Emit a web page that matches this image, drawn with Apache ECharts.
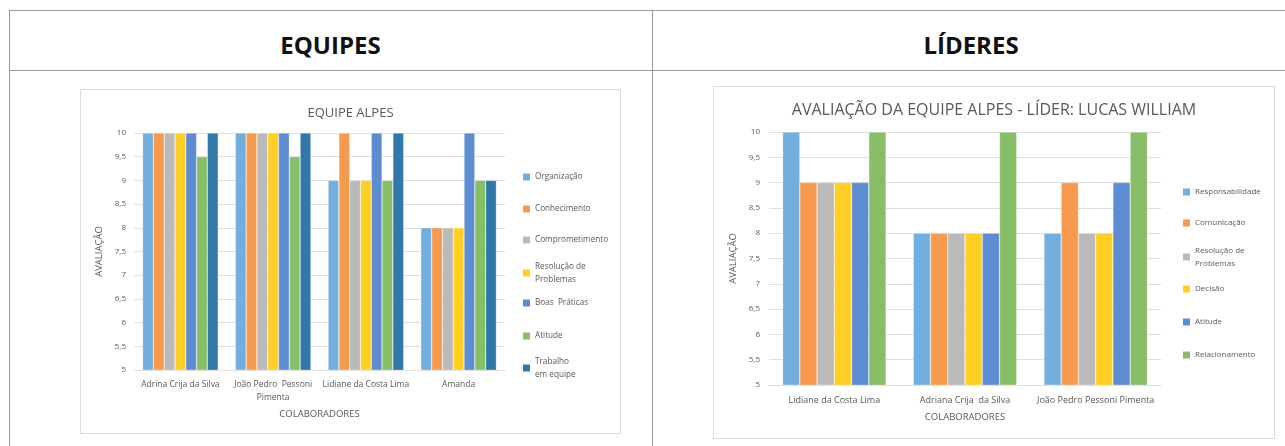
<!DOCTYPE html>
<html lang="pt-BR">
<head>
<meta charset="utf-8">
<title>Equipes e Líderes</title>
<script src="https://cdn.jsdelivr.net/npm/echarts@6/dist/echarts.min.js"></script>
<style>
  html, body { margin: 0; padding: 0; background: #ffffff; }
  body { position: relative; width: 1285px; height: 446px; overflow: hidden; font-family: "Open Sans", sans-serif; }
  .hline { position: absolute; height: 0; border-top: 1px solid #9a9a9a; }
  .vline { position: absolute; width: 0; border-left: 1px solid #9a9a9a; }
  .head { position: absolute; top: 29px; font-weight: 700; font-size: 24px; color: #111; text-align: center; line-height: 32px; }
  .box { position: absolute; border: 1px solid #dcdcdc; box-sizing: border-box; background: #fff; }
</style>
</head>
<body>
<div class="hline" style="left:9px; top:10px; width:1290px;"></div>
<div class="hline" style="left:9px; top:70px; width:1290px;"></div>
<div class="vline" style="left:9px; top:10px; height:440px;"></div>
<div class="vline" style="left:652px; top:10px; height:440px;"></div>
<div class="head" style="left:9px; width:643px;">EQUIPES</div>
<div class="head" style="left:652px; width:638px;">LÍDERES</div>
<div class="box" id="equipes" style="left:80px; top:89px; width:541px; height:345px;"></div>
<div class="box" id="lideres" style="left:713px; top:86px; width:562px; height:353px;"></div>
<script>
// ---- Equipe Alpes ----
const equipeCategories = ['Adrina Crija da Silva', 'João Pedro  Pessoni\nPimenta', 'Lidiane da Costa Lima', 'Amanda'];
const equipeNames = ['Organização', 'Conhecimento', 'Comprometimento', 'Resolução de\nProblemas', 'Boas  Práticas', 'Atitude', 'Trabalho\nem equipe'];
const organizacao = [10, 10, 9, 8];
const conhecimento = [10, 10, 10, 8];
const comprometimento = [10, 10, 9, 8];
const resolucaoEquipe = [10, 10, 9, 8];
const boasPraticas = [10, 10, 10, 10];
const atitudeEquipe = [9.5, 9.5, 9, 9];
const trabalhoEquipe = [10, 10, 10, 9];

// ---- Líderes ----
const lideresCategories = ['Lidiane da Costa Lima', 'Adriana Crija  da Silva', 'João Pedro Pessoni Pimenta'];
const lideresNames = ['Responsabilidade', 'Comunicação', 'Resolução de\nProblemas', 'Decisão', 'Atitude', 'Relacionamento'];
const responsabilidade = [10, 8, 8];
const comunicacao = [9, 8, 9];
const resolucaoLider = [9, 8, 8];
const decisao = [9, 8, 8];
const atitudeLider = [9, 8, 9];
const relacionamento = [10, 10, 10];

const yTicks = { min: 5, max: 10, interval: 0.5 };

const palette = ['#72AFDE', '#F79A4D', '#BABABA', '#FFCF26', '#5D8CD0', '#87BE67', '#2F78A8'];
const textGray = '#595959';
const gridGray = '#dedede';
const FONT = 'Open Sans';

function valueAxis(fontSize, margin, nameGap, nameSize) {
  return {
    type: 'value', min: yTicks.min, max: yTicks.max, interval: yTicks.interval,
    name: 'AVALIAÇÃO', nameLocation: 'middle', nameGap: nameGap,
    nameTextStyle: { color: textGray, fontSize: nameSize, fontFamily: FONT },
    axisLine: { show: false }, axisTick: { show: false },
    axisLabel: { color: textGray, fontSize: fontSize, fontFamily: FONT, margin: margin,
      formatter: v => String(v).replace('.', ',') },
    splitLine: { lineStyle: { color: gridGray, width: 1 } }
  };
}

function categoryAxis(cats, fontSize, margin, nameGap, nameSize, lh) {
  return {
    type: 'category', data: cats,
    name: 'COLABORADORES', nameLocation: 'middle', nameGap: nameGap,
    nameTextStyle: { color: textGray, fontSize: nameSize, fontFamily: FONT },
    axisLine: { lineStyle: { color: gridGray } }, axisTick: { show: false },
    axisLabel: { color: textGray, fontSize: fontSize, fontFamily: FONT, margin: margin, lineHeight: lh, interval: 0 }
  };
}

// One legend block per series so each entry sits at its own row.
function legends(names, left, centers, fontSize, lh) {
  return names.map((n, i) => {
    const twoLines = n.indexOf('\n') >= 0;
    return {
      left: left, top: twoLines ? centers[i] - lh * 1.5 : centers[i] - lh / 2,
      orient: 'vertical', itemWidth: 7, itemHeight: 7, itemGap: 0, padding: 0,
      selectedMode: false, icon: 'rect',
      data: [{ name: n, textStyle: twoLines ? { padding: [lh, 0, 0, 0] } : {} }],
      textStyle: { color: textGray, fontSize: fontSize, fontFamily: FONT, lineHeight: lh, padding: 0 },
      itemStyle: { borderWidth: 0 }
    };
  });
}

function barSeries(names, values, gapCat) {
  return names.map((n, i) => ({
    name: n, type: 'bar', data: values[i], barGap: '0%', barCategoryGap: gapCat,
    itemStyle: { color: palette[i], borderColor: 'rgba(255,255,255,0.6)', borderWidth: 0.5 },
    animation: false
  }));
}

const equipesChart = echarts.init(document.getElementById('equipes'), null, { renderer: 'canvas' });
equipesChart.setOption({
  animation: false,
  title: { text: 'EQUIPE ALPES', left: 'center', top: 12,
    textStyle: { color: textGray, fontSize: 13, fontWeight: 'normal', fontFamily: FONT } },
  grid: { left: 53, top: 43, right: 115, bottom: 63 },
  xAxis: categoryAxis(equipeCategories, 8.5, 8, 38, 9.5, 13),
  yAxis: valueAxis(8, 8, 25, 9.5),
  legend: legends(equipeNames, 442, [87, 119, 150, 183, 213, 246, 278], 8.2, 13),
  series: barSeries(equipeNames,
    [organizacao, conhecimento, comprometimento, resolucaoEquipe, boasPraticas, atitudeEquipe, trabalhoEquipe], '18.5%')
});

const lideresChart = echarts.init(document.getElementById('lideres'), null, { renderer: 'canvas' });
lideresChart.setOption({
  animation: false,
  title: { text: 'AVALIAÇÃO DA EQUIPE ALPES - LÍDER: LUCAS WILLIAM', left: 'center', top: 10,
    textStyle: { color: textGray, fontSize: 16, fontWeight: 'normal', fontFamily: FONT } },
  grid: { left: 55, top: 45, right: 113, bottom: 53 },
  xAxis: categoryAxis(lideresCategories, 9, 9, 25, 9.5, 13),
  yAxis: valueAxis(8, 9, 28, 9.5),
  legend: legends(lideresNames, 469, [105, 136, 170, 202, 235, 268], 8, 13),
  series: barSeries(lideresNames,
    [responsabilidade, comunicacao, resolucaoLider, decisao, atitudeLider, relacionamento], '20.8%')
});
</script>
</body>
</html>
